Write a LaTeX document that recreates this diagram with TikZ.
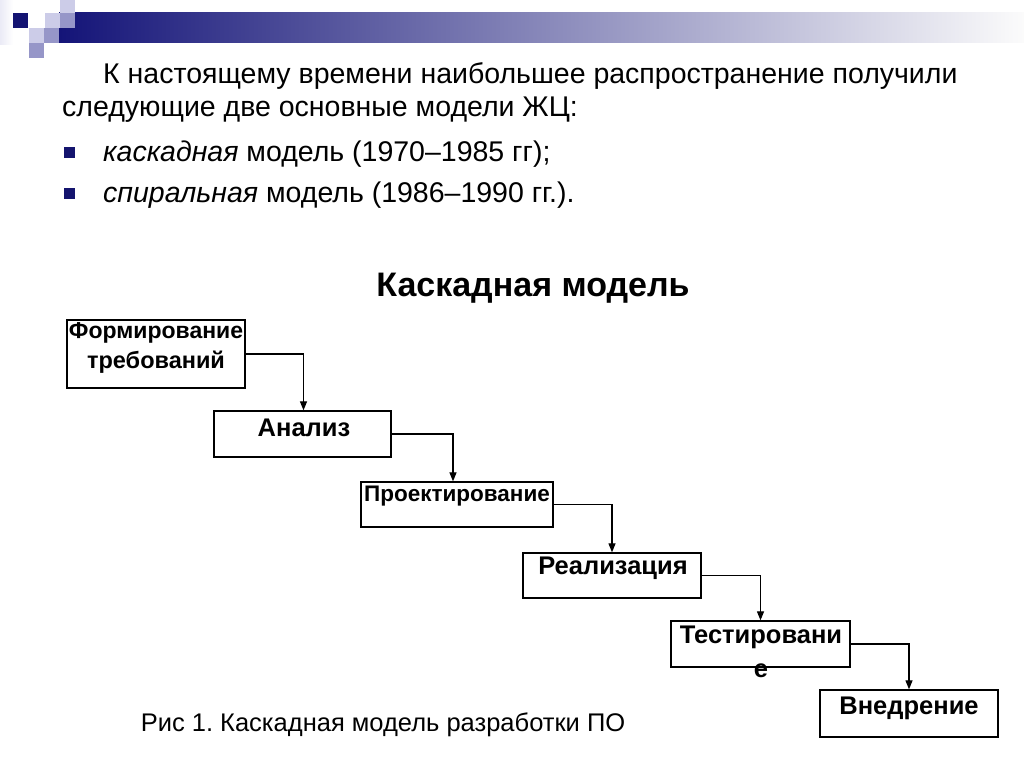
\documentclass[tikz,border=0pt]{standalone}
\usepackage{fontspec}
\setmainfont{Liberation Sans}
\usetikzlibrary{arrows.meta}
\definecolor{navy}{RGB}{20,20,120}
\definecolor{lav}{RGB}{204,204,232}
\definecolor{mlav}{RGB}{150,150,200}
\definecolor{bul}{RGB}{20,20,110}
\frenchspacing
\begin{document}
\begin{tikzpicture}[x=1pt,y=-1pt,
  box/.style={draw=black,line width=1.3pt,fill=white,inner sep=0pt},
  lbl/.style={font=\fontsize{25.5}{30}\selectfont\bfseries,inner sep=0pt,anchor=center},
  body/.style={font=\fontsize{28.5}{34}\selectfont,inner sep=0pt,anchor=base west},
  bullet/.style={fill=bul,minimum size=11pt,inner sep=0pt},
  conn/.style={line width=1.2pt,-{Triangle[length=9pt,width=7pt]}}]
\useasboundingbox (0,0) rectangle (1024,767);
% header decoration
\fill[white] (0,0) rectangle (1024,767);
\shade[left color=lav!40,right color=white] (0,0) rectangle (13,45);
\shade[left color=navy,middle color={rgb,255:red,175;green,175;blue,192},right color=white!97!gray] (59,13) rectangle (1024,43);
\fill[navy!95!black] (13,13) rectangle (28,28);
\fill[lav] (45,13) rectangle (60,28);
\fill[lav] (60,0) rectangle (75,13);
\fill[mlav] (60,13) rectangle (75,28);
\fill[lav] (29,28) rectangle (44,43);
\fill[mlav] (44,28) rectangle (59,43);
\fill[mlav] (29,43) rectangle (44,58);
% body text
\node[body] (t1) at (103,84) {К настоящему времени наибольшее распространение получили};
\node[body] (t2) at (62,117) {следующие две основные модели ЖЦ:};
\node[bullet] (b1) at (69,153) {};
\node[body] (t3) at (103,162) {\itshape каскадная\upshape{} модель (1970–1985 гг);};
\node[bullet] (b2) at (69,194) {};
\node[body] (t4) at (103,203) {\itshape спиральная\upshape{} модель (1986–1990 гг.).};
\node[font=\fontsize{34}{40}\selectfont\bfseries,inner sep=0pt] (title) at (533,288) {Каскадная модель};
% boxes
\node[box,minimum width=178pt,minimum height=68pt] (n1) at (156,354) {};
\node[lbl,font=\fontsize{23}{27}\selectfont\bfseries] at (156,333) {Формирование};
\node[lbl,font=\fontsize{23.5}{27}\selectfont\bfseries] at (156,362) {требований};
\node[box,minimum width=177pt,minimum height=46pt] (n2) at (302.5,434) {};
\node[lbl] at (304,428) {Анализ};
\node[box,minimum width=192pt,minimum height=45pt] (n3) at (457,504.5) {};
\node[lbl,font=\fontsize{22.5}{26}\selectfont\bfseries] at (457,496) {Проектирование};
\node[box,minimum width=178pt,minimum height=45pt] (n4) at (612,575.5) {};
\node[lbl] at (613,568) {Реализация};
\node[box,minimum width=179pt,minimum height=46pt] (n5) at (760.5,644) {};
\node[lbl] at (761,637) {Тестировани};
\node[lbl] at (761,671) {е};
\node[box,minimum width=178pt,minimum height=47pt] (n6) at (909,713.5) {};
\node[lbl] at (909,708) {Внедрение};
% connectors
\draw[conn] (n1.east) -| ([xshift=1pt]n2.north);
\draw[conn] (n2.east) -| ([xshift=-4pt]n3.north);
\draw[conn] (n3.east) -| (n4.north);
\draw[conn] (n4.east) -| (n5.north);
\draw[conn] (n5.east) -| (n6.north);
\node[font=\fontsize{25.5}{30}\selectfont,inner sep=0pt] (cap) at (383,725) {Рис 1. Каскадная модель разработки ПО};
\end{tikzpicture}
\end{document}
